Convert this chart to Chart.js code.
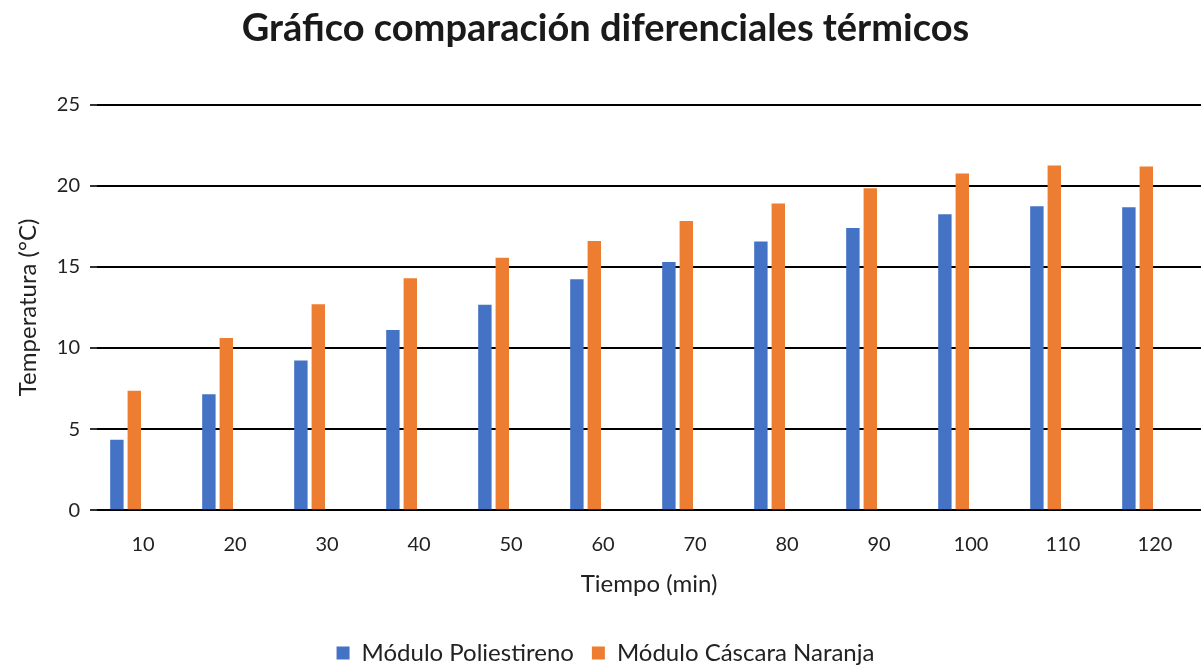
<!DOCTYPE html>
<html>
<head>
<meta charset="utf-8">
<script src="https://cdn.jsdelivr.net/npm/chart.js@4/dist/chart.umd.min.js"></script>
<style>
  html, body { margin: 0; padding: 0; background: #fff; }
  #wrap { width: 1201px; height: 667px; }
</style>
</head>
<body>
<div id="wrap"><canvas id="difChart"></canvas></div>
<script>
var tiempos = ['10', '20', '30', '40', '50', '60', '70', '80', '90', '100', '110', '120'];
var poliestireno = [4.34, 7.14, 9.23, 11.10, 12.66, 14.23, 15.30, 16.56, 17.40, 18.24, 18.74, 18.67];
var cascaraNaranja = [7.36, 10.61, 12.70, 14.30, 15.56, 16.59, 17.82, 18.90, 19.84, 20.76, 21.25, 21.19];
// empty series, the original sheet had two blank columns that still take room
var vacio = [null, null, null, null, null, null, null, null, null, null, null, null];

var fuente = 'Lato, "DejaVu Sans", sans-serif';

new Chart(document.getElementById('difChart'), {
    type: 'bar',
    data: {
        labels: tiempos,
        datasets: [
            {label: 'Módulo Poliestireno', backgroundColor: '#4472C4', data: poliestireno},
            {label: 'Módulo Cáscara Naranja', backgroundColor: '#ED7D31', data: cascaraNaranja},
            {label: '', backgroundColor: '#A5A5A5', data: vacio},
            {label: '', backgroundColor: '#FFC000', data: vacio}
        ]
    },
    options: {
        responsive: true,
        maintainAspectRatio: false,
        animation: false,
        datasets: {
            bar: {categoryPercentage: 0.757, barPercentage: 0.77}
        },
        layout: {padding: {left: 10, right: 0, top: 2, bottom: -8}},
        plugins: {
            title: {
                display: true,
                text: 'Gráfico comparación diferenciales térmicos',
                color: '#1a1a1a',
                font: {family: fuente, size: 38, weight: 'bold'},
                padding: {top: 4, bottom: 53}
            },
            legend: {
                position: 'bottom',
                labels: {
                    filter: function (item) { return item.text !== ''; },
                    boxWidth: 13,
                    boxHeight: 13,
                    padding: 18,
                    color: '#222',
                    font: {family: fuente, size: 24}
                }
            },
            tooltip: {enabled: false}
        },
        scales: {
            x: {
                grid: {display: false},
                border: {display: false},
                ticks: {color: '#222', font: {family: fuente, size: 20}, padding: 14},
                title: {
                    display: true,
                    text: 'Tiempo (min)',
                    color: '#222',
                    font: {family: fuente, size: 24},
                    padding: {top: 0, bottom: 24}
                }
            },
            y: {
                min: 0,
                max: 25,
                ticks: {stepSize: 5, color: '#222', font: {family: fuente, size: 20}, padding: 10},
                grid: {color: '#000', lineWidth: 2, tickLength: 7, tickColor: '#333'},
                border: {display: false},
                title: {
                    display: true,
                    text: 'Temperatura (°C)',
                    color: '#222',
                    font: {family: fuente, size: 24},
                    padding: {bottom: 4}
                }
            }
        }
    }
});
</script>
</body>
</html>
